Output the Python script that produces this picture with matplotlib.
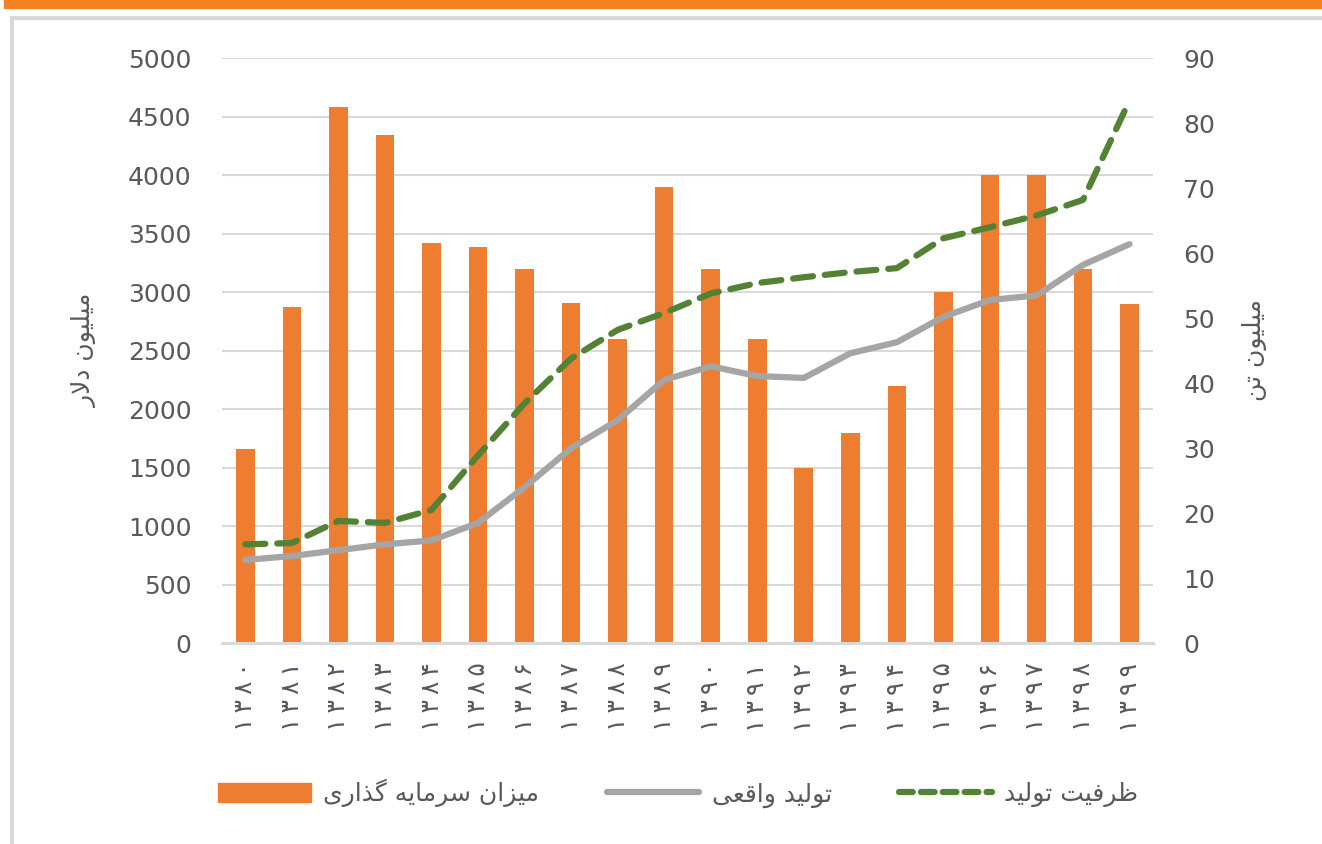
import matplotlib
matplotlib.use('Agg')
import matplotlib.pyplot as plt
from matplotlib.lines import Line2D
from matplotlib.patches import Rectangle

# === DATA ===
years = ['۱۳۸۰', '۱۳۸۱', '۱۳۸۲', '۱۳۸۳', '۱۳۸۴', '۱۳۸۵', '۱۳۸۶', '۱۳۸۷', '۱۳۸۸', '۱۳۸۹',
         '۱۳۹۰', '۱۳۹۱', '۱۳۹۲', '۱۳۹۳', '۱۳۹۴', '۱۳۹۵', '۱۳۹۶', '۱۳۹۷', '۱۳۹۸', '۱۳۹۹']
investment = [1660, 2870, 4580, 4340, 3420, 3390, 3200, 2910, 2600, 3900,
              3200, 2600, 1500, 1800, 2200, 3000, 4000, 4000, 3200, 2900]
actual_prod = [12.8, 13.4, 14.3, 15.2, 15.8, 18.5, 24.0, 30.0, 34.3, 40.5,
               42.6, 41.1, 40.8, 44.6, 46.3, 50.2, 52.8, 53.5, 58.2, 61.4]
capacity = [15.2, 15.4, 18.8, 18.5, 20.5, 28.9, 36.9, 43.8, 48.2, 50.8,
            53.8, 55.4, 56.3, 57.1, 57.7, 62.3, 64.0, 65.8, 68.2, 83.5]

label_inv = 'میزان سرمایه گذاری'
label_act = 'تولید واقعی'
label_cap = 'ظرفیت تولید'
ylabel_left = 'میلیون دلار'
ylabel_right = 'میلیون تن'

# === SHAPING PERSIAN TEXT (matplotlib has no bidi / shaping) ===
FORMS = {
    'ا': ('\uFE8D', '\uFE8E', None, None),
    'ت': ('\uFE95', '\uFE96', '\uFE97', '\uFE98'),
    'د': ('\uFEA9', '\uFEAA', None, None),
    'ذ': ('\uFEAB', '\uFEAC', None, None),
    'ر': ('\uFEAD', '\uFEAE', None, None),
    'ز': ('\uFEAF', '\uFEB0', None, None),
    'س': ('\uFEB1', '\uFEB2', '\uFEB3', '\uFEB4'),
    'ظ': ('\uFEC5', '\uFEC6', '\uFEC7', '\uFEC8'),
    'ع': ('\uFEC9', '\uFECA', '\uFECB', '\uFECC'),
    'ف': ('\uFED1', '\uFED2', '\uFED3', '\uFED4'),
    'ق': ('\uFED5', '\uFED6', '\uFED7', '\uFED8'),
    'ل': ('\uFEDD', '\uFEDE', '\uFEDF', '\uFEE0'),
    'م': ('\uFEE1', '\uFEE2', '\uFEE3', '\uFEE4'),
    'ن': ('\uFEE5', '\uFEE6', '\uFEE7', '\uFEE8'),
    'ه': ('\uFEE9', '\uFEEA', '\uFEEB', '\uFEEC'),
    'و': ('\uFEED', '\uFEEE', None, None),
    'ی': ('\uFBFC', '\uFBFD', '\uFBFE', '\uFBFF'),
    'گ': ('\uFB92', '\uFB93', '\uFB94', '\uFB95'),
}


def shape(text):
    out = []
    i = 0
    while i < len(text):
        c = text[i]
        if c not in FORMS:
            out.append(c)
            i += 1
            continue
        prev = text[i - 1] if i > 0 else ''
        nxt = text[i + 1] if i + 1 < len(text) else ''
        pj = prev in FORMS and FORMS[prev][2] is not None
        if c == 'ل' and nxt == 'ا':  # lam-alef
            out.append('\uFEFC' if pj else '\uFEFB')
            i += 2
            continue
        iso, fin, ini, med = FORMS[c]
        nj = nxt in FORMS and ini is not None
        if pj and nj:
            out.append(med)
        elif pj:
            out.append(fin)
        elif nj:
            out.append(ini)
        else:
            out.append(iso)
        i += 1
    return ''.join(reversed(out))


# === STYLE ===
plt.rcParams['font.family'] = ['DejaVu Sans']
txt_col = '#595959'
grid_col = '#d9d9d9'

fig = plt.figure(figsize=(13.22, 8.44), dpi=100)
ax = fig.add_axes([0.168, 0.238, 0.704, 0.693])
ax2 = ax.twinx()

x = list(range(len(years)))
ax.bar(x, investment, width=0.4, color='#ED7D31', label=shape(label_inv), zorder=2)
ax2.plot(x, actual_prod, color='#A5A5A5', lw=4.5, solid_capstyle='round',
         label=shape(label_act), zorder=3)
ax2.plot(x, capacity, color='#548235', lw=4.5, linestyle=(0, (3.2, 1.9)),
         dash_capstyle='round', label=shape(label_cap), zorder=4)

ax.set_xlim(-0.5, len(years) - 0.5)
ax.set_ylim(0, 5000)
ax.set_yticks(range(0, 5001, 500))
ax2.set_ylim(0, 90)
ax2.set_yticks(range(0, 91, 10))

ax.grid(axis='y', color=grid_col, lw=1.5, zorder=0)
ax.set_axisbelow(True)
for a in (ax, ax2):
    for s in a.spines.values():
        s.set_visible(False)
    a.tick_params(length=0, labelsize=18, labelcolor=txt_col, pad=22)
ax.spines['bottom'].set_visible(True)
ax.spines['bottom'].set_color(grid_col)
ax.spines['bottom'].set_linewidth(2.2)

# the reference spaces the digits out a little
ax.set_xticks(x)
ax.set_xticklabels(['\u2009'.join(y) for y in years], rotation=90, fontsize=18)
ax.tick_params(axis='x', pad=14)

fig.text(0.064, 0.585, shape(ylabel_left), rotation=90, fontsize=18,
         color=txt_col, ha='center', va='center')
fig.text(0.949, 0.585, shape(ylabel_right), rotation=90, fontsize=18,
         color=txt_col, ha='center', va='center')

# legend
handles = [Rectangle((0, 0), 1, 1, color='#ED7D31'),
           Line2D([], [], color='#A5A5A5', lw=4.5, solid_capstyle='round'),
           Line2D([], [], color='#548235', lw=4.5, linestyle=(0, (2.2, 1.3)),
                  dash_capstyle='round')]
labels = [shape(label_inv), shape(label_act), shape(label_cap)]
fig.legend(handles, labels, loc='center', bbox_to_anchor=(0.513, 0.06), ncol=3,
           frameon=False, fontsize=18, labelcolor=txt_col, handlelength=3.7,
           handleheight=0.8, columnspacing=2.7, handletextpad=0.5)

# frame and top strip
fig.add_artist(Rectangle((0.003, 0.99), 1.0, 0.02, color='#F58220',
                         transform=fig.transFigure, clip_on=False))
fig.add_artist(Line2D([0.009, 1.0], [0.979, 0.979], color=grid_col, lw=3,
                      transform=fig.transFigure))
fig.add_artist(Line2D([0.009, 0.009], [0.0, 0.979], color=grid_col, lw=3,
                      transform=fig.transFigure))

fig.savefig('out.png', dpi=100)
